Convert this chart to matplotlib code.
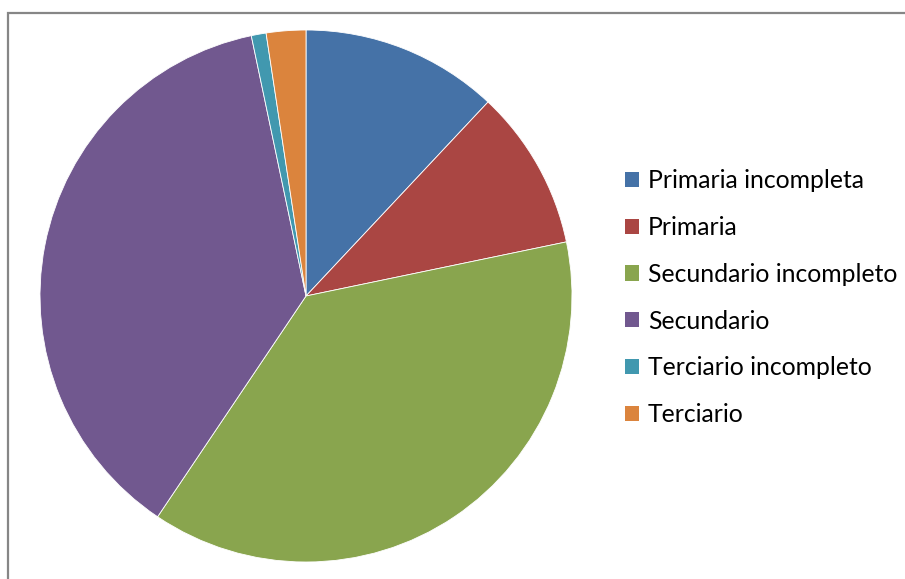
import matplotlib
matplotlib.use("Agg")
import matplotlib.pyplot as plt
from matplotlib.patches import Rectangle, Patch

labels = ["Primaria incompleta", "Primaria", "Secundario incompleto",
          "Secundario", "Terciario incompleto", "Terciario"]
values = [12.0, 9.75, 37.7, 37.3, 0.9, 2.4]
colors = ["#4572A7", "#AA4643", "#89A54E", "#71588F", "#4198AF", "#DB843D"]

W, H = 905, 579
fig = plt.figure(figsize=(W / 100, H / 100), dpi=100)

# pie axes: center (306, 296) px, radius 266 px
cx, cy, r = 306, 296, 266
ax = fig.add_axes([(cx - r) / W, (H - cy - r) / H, 2 * r / W, 2 * r / H])
ax.pie(values, colors=colors, startangle=90, counterclock=False, radius=1,
       wedgeprops=dict(edgecolor="white", linewidth=0.6))
ax.set_xlim(-1, 1)
ax.set_ylim(-1, 1)
ax.set_aspect("equal")
ax.axis("off")

# outer chart border (right and bottom go off the image)
fig.add_artist(Rectangle((7.5 / W, -0.2), 1.5, 1.2 - 13 / H,
                         transform=fig.transFigure, fill=False,
                         edgecolor="#868686", linewidth=1.6, clip_on=False))

handles = [Patch(facecolor=c, edgecolor="none") for c in colors]
fig.legend(handles, labels, loc="upper left",
           bbox_to_anchor=(625 / W, 1 - 169 / H),
           frameon=False, prop=dict(family="Lato", size=17.8),
           handlelength=0.57, handleheight=0.57, handletextpad=0.36,
           labelspacing=0.965, borderpad=0, borderaxespad=0)

fig.savefig("out.png", dpi=100)
